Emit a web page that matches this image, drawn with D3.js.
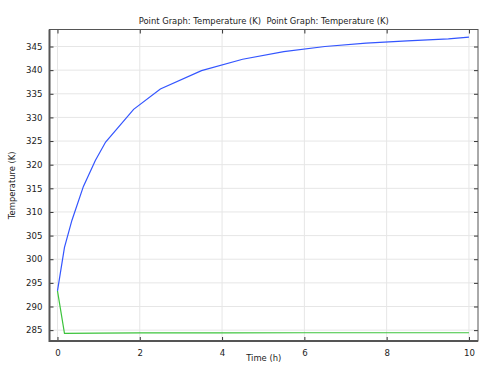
<!DOCTYPE html>
<html>
<head>
<meta charset="utf-8">
<script src="https://cdn.jsdelivr.net/npm/d3@7"></script>
<style>
  body { margin: 0; background: #fff; }
  text { font-family: "DejaVu Sans", sans-serif; fill: #222; white-space: pre; }
</style>
</head>
<body>
<div id="chart"></div>
<script>
  // time in hours
  let timeA = [0, 0.17, 0.35, 0.63, 0.92, 1.17, 1.85, 2.5, 3.5, 4.5, 5.5, 6.5, 7.5, 8.5, 9.5, 10];
  let tempA = [293.3, 302.5, 308.2, 315.4, 320.9, 324.8, 331.7, 336.0, 339.9, 342.3, 343.9, 345.0, 345.7, 346.2, 346.6, 347.0];
  let timeB = [0, 0.17, 1, 2, 4, 6, 8, 10];
  let tempB = [293.3, 284.3, 284.35, 284.4, 284.4, 284.45, 284.45, 284.45];
  let xTicks = [0, 2, 4, 6, 8, 10];
  let yTicks = [285, 290, 295, 300, 305, 310, 315, 320, 325, 330, 335, 340, 345];

  let width = 487;
  let height = 372;
  let mLeft = 49.5, mRight = 478, mTop = 29.5, mBottom = 341;

  let x = d3.scaleLinear().domain([-0.194, 10.22]).range([mLeft, mRight]);
  let y = d3.scaleLinear().domain([282.7, 348.6]).range([mBottom, mTop]);

  let svg = d3.select('#chart').append('svg')
    .attr('width', width)
    .attr('height', height);

  // grid
  svg.append('g').selectAll('line').data(xTicks).enter().append('line')
    .attr('x1', (d) => x(d)).attr('x2', (d) => x(d))
    .attr('y1', mTop).attr('y2', mBottom)
    .attr('stroke', '#e6e6e6');
  svg.append('g').selectAll('line').data(yTicks).enter().append('line')
    .attr('y1', (d) => y(d)).attr('y2', (d) => y(d))
    .attr('x1', mLeft).attr('x2', mRight)
    .attr('stroke', '#e6e6e6');

  // axes with inward ticks on all sides
  let fmt = d3.format('d');
  let gb = svg.append('g').attr('transform', `translate(0,${mBottom})`)
    .call(d3.axisBottom(x).tickValues(xTicks).tickFormat(fmt).tickSizeInner(-4).tickSizeOuter(0).tickPadding(9));
  let gt = svg.append('g').attr('transform', `translate(0,${mTop})`)
    .call(d3.axisTop(x).tickValues(xTicks).tickFormat('').tickSizeInner(-4).tickSizeOuter(0));
  let gl = svg.append('g').attr('transform', `translate(${mLeft},0)`)
    .call(d3.axisLeft(y).tickValues(yTicks).tickFormat(fmt).tickSizeInner(-4).tickSizeOuter(0).tickPadding(4));
  let gr = svg.append('g').attr('transform', `translate(${mRight},0)`)
    .call(d3.axisRight(y).tickValues(yTicks).tickFormat('').tickSizeInner(-4).tickSizeOuter(0));

  [gb, gt, gl, gr].forEach((g) => {
    g.select('.domain').remove();
    g.selectAll('.tick line').attr('stroke', '#333');
    g.selectAll('.tick text').attr('font-size', 8.6).attr('fill', '#222')
      .attr('font-family', '"DejaVu Sans", sans-serif');
  });
  gl.selectAll('.tick text').attr('dx', '-3');

  // frame
  svg.append('rect')
    .attr('x', mLeft).attr('y', mTop)
    .attr('width', mRight - mLeft).attr('height', mBottom - mTop)
    .attr('fill', 'none').attr('stroke', '#555').attr('stroke-width', 1);
  svg.append('path')
    .attr('d', `M${mLeft},${mTop}V${mBottom}H${mRight}`)
    .attr('fill', 'none').attr('stroke', '#555').attr('stroke-width', 2);

  // lines
  let line = d3.line().x((d) => x(d[0])).y((d) => y(d[1]));
  svg.append('path')
    .datum(timeB.map((t, i) => [t, tempB[i]]))
    .attr('d', line).attr('fill', 'none').attr('stroke', '#3cc33c').attr('stroke-width', 1.2);
  svg.append('path')
    .datum(timeA.map((t, i) => [t, tempA[i]]))
    .attr('d', line).attr('fill', 'none').attr('stroke', '#3355ff').attr('stroke-width', 1.2);

  // titles
  svg.append('text')
    .attr('x', (mLeft + mRight) / 2).attr('y', 24)
    .attr('text-anchor', 'middle').attr('font-size', 8.4)
    .text('Point Graph: Temperature (K)  Point Graph: Temperature (K)');
  svg.append('text')
    .attr('x', (mLeft + mRight) / 2).attr('y', 361)
    .attr('text-anchor', 'middle').attr('font-size', 8.4)
    .text('Time (h)');
  svg.append('text')
    .attr('transform', `translate(15,${(mTop + mBottom) / 2}) rotate(-90)`)
    .attr('text-anchor', 'middle').attr('font-size', 8.4)
    .text('Temperature (K)');
</script>
</body>
</html>
